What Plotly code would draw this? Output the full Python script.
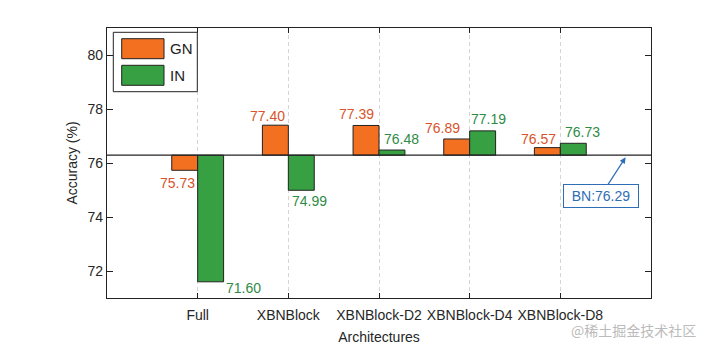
import plotly.graph_objects as go

categories = ["Full", "XBNBlock", "XBNBlock-D2", "XBNBlock-D4", "XBNBlock-D8"]
gn_values = [75.73, 77.40, 77.39, 76.89, 76.57]
in_values = [71.60, 74.99, 76.48, 77.19, 76.73]
bn_value = 76.29
y_ticks = [72, 74, 76, 78, 80]

# style
ORANGE = "#F37021"
GREEN = "#36A042"
GN_TXT = "#D9532B"
IN_TXT = "#2E8B45"
BLUE = "#2F6DB5"
FONT = "Liberation Sans, Arial, sans-serif"
BW = 0.286

# label offsets (px) relative to category tick / bar end
gn_dx = [-20.6, -20.8, -23, -27.5, -21.7]
gn_dy = [-12.4, 9, 11.5, 11.3, 8.3]
in_dx = [45.6, 21, 22.5, 19, 21.8]
in_dy = [-6, -11.2, 10.7, 12, 11.6]

xs = list(range(len(categories)))

fig = go.Figure()
fig.add_trace(go.Bar(
    x=xs, y=[v - bn_value for v in gn_values], base=bn_value,
    width=BW, offset=-BW, name="GN",
    marker=dict(color=ORANGE, line=dict(color="#222222", width=1)),
    showlegend=False, hoverinfo="skip",
))
fig.add_trace(go.Bar(
    x=xs, y=[v - bn_value for v in in_values], base=bn_value,
    width=BW, offset=0, name="IN",
    marker=dict(color=GREEN, line=dict(color="#222222", width=1)),
    showlegend=False, hoverinfo="skip",
))

# BN baseline
fig.add_shape(type="line", xref="paper", x0=0, x1=1, yref="y", y0=bn_value, y1=bn_value,
              line=dict(color="#222222", width=1.2))

annotations = []
for i, v in enumerate(gn_values):
    annotations.append(dict(x=i, y=v, xref="x", yref="y", text=f"{v:.2f}", showarrow=False,
                            xshift=gn_dx[i], yshift=gn_dy[i], xanchor="center", yanchor="middle",
                            font=dict(family=FONT, size=14, color=GN_TXT)))
for i, v in enumerate(in_values):
    annotations.append(dict(x=i, y=v, xref="x", yref="y", text=f"{v:.2f}", showarrow=False,
                            xshift=in_dx[i], yshift=in_dy[i], xanchor="center", yanchor="middle",
                            font=dict(family=FONT, size=14, color=IN_TXT)))

# BN annotation with arrow
annotations.append(dict(x=4.72, y=bn_value - 0.08, xref="x", yref="y", text=f"BN:{bn_value:.2f}",
                        showarrow=True, arrowhead=2, arrowsize=1, arrowwidth=1.2, arrowcolor=BLUE,
                        ax=-25, ay=38.5, bordercolor=BLUE, borderwidth=1, borderpad=3,
                        bgcolor="white", width=68,
                        font=dict(family=FONT, size=14, color=BLUE)))

# manual legend (MATLAB-style box)
fig_w, fig_h = 713, 351
ml, mr, mt, mb = 107, 62, 28, 53
pw, ph = fig_w - ml - mr, fig_h - mt - mb

def px2paper(px, py):
    return (px - ml) / pw, 1 - (py - mt) / ph

x0, y0 = px2paper(113.3, 32.3)
x1, y1 = px2paper(197.3, 91.7)
fig.add_shape(type="rect", xref="paper", yref="paper", x0=x0, y0=y1, x1=x1, y1=y0,
              line=dict(color="#222222", width=1), fillcolor="white", layer="above")
for (name, col, top) in [("GN", ORANGE, 38.7), ("IN", GREEN, 65.3)]:
    a0, b0 = px2paper(121.7, top)
    a1, b1 = px2paper(164, top + 20)
    fig.add_shape(type="rect", xref="paper", yref="paper", x0=a0, y0=b1, x1=a1, y1=b0,
                  line=dict(color="#222222", width=1), fillcolor=col, layer="above")
    tx, ty = px2paper(168, top + 10)
    annotations.append(dict(x=tx, y=ty, xref="paper", yref="paper", text=name, showarrow=False,
                            xanchor="left", yanchor="middle",
                            font=dict(family=FONT, size=15, color="#222222")))

# watermark
wx, wy = px2paper(633, 330)
annotations.append(dict(x=wx, y=wy, xref="paper", yref="paper", text="@稀土掘金技术社区",
                        showarrow=False, xanchor="center", yanchor="middle",
                        font=dict(family="Noto Sans CJK SC", size=14, color="#BBBBBB")))

fig.update_layout(
    width=fig_w, height=fig_h,
    margin=dict(l=ml, r=mr, t=mt, b=mb, pad=0, autoexpand=False),
    paper_bgcolor="white", plot_bgcolor="white",
    barmode="overlay",
    font=dict(family=FONT, size=14, color="#262626"),
    annotations=annotations,
    xaxis=dict(
        range=[-1, 5], tickmode="array", tickvals=xs, ticktext=categories,
        ticks="inside", ticklen=5, tickcolor="#222222",
        showline=True, linecolor="#222222", linewidth=1.2, mirror="ticks",
        showgrid=True, gridcolor="#D4D4D4", griddash="4px,3px", gridwidth=1,
        zeroline=False, ticklabelstandoff=4, automargin=False,
        title=dict(text="Architectures", standoff=10, font=dict(size=14)),
        tickfont=dict(size=14),
    ),
    yaxis=dict(
        range=[71, 81], tickmode="array", tickvals=y_ticks,
        ticks="inside", ticklen=6, tickcolor="#222222",
        showline=True, linecolor="#222222", linewidth=1.2, mirror="ticks",
        showgrid=False, zeroline=False, automargin=False,
        title=dict(text="Accuracy (%)", standoff=6, font=dict(size=14)),
        tickfont=dict(size=14),
    ),
)

fig.write_html("out.html")
